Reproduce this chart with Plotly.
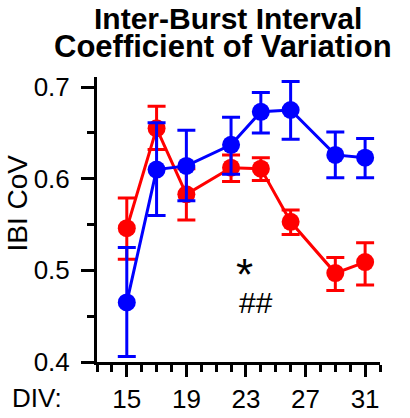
import plotly.graph_objects as go

# ---- data ----
div = [15, 17, 19, 22, 24, 26, 29, 31]

blue_mean = [0.465, 0.610, 0.614, 0.637, 0.673, 0.675, 0.626, 0.623]
blue_hi   = [0.525, 0.661, 0.653, 0.667, 0.694, 0.706, 0.651, 0.644]
blue_lo   = [0.406, 0.560, 0.576, 0.605, 0.650, 0.643, 0.601, 0.601]

red_mean = [0.546, 0.655, 0.583, 0.612, 0.611, 0.553, 0.497, 0.509]
red_hi   = [0.579, 0.679, 0.611, 0.626, 0.623, 0.566, 0.514, 0.530]
red_lo   = [0.512, 0.632, 0.555, 0.597, 0.598, 0.539, 0.478, 0.484]

x_tickvals = [15, 19, 23, 27, 31]
y_tickvals = [0.4, 0.5, 0.6, 0.7]
y_ticktext = ["0.4", "0.5", "0.6", "0.7"]

FONT = "Arial, Liberation Sans, Helvetica, sans-serif"


def series(mean, hi, lo, color):
    return go.Scatter(
        x=div, y=mean, mode="lines+markers",
        line=dict(color=color, width=3),
        marker=dict(color=color, size=18),
        error_y=dict(
            type="data", symmetric=False,
            array=[h - m for h, m in zip(hi, mean)],
            arrayminus=[m - l for m, l in zip(mean, lo)],
            color=color, thickness=3, width=9,
        ),
        showlegend=False,
        cliponaxis=False,
    )


fig = go.Figure()
fig.add_trace(series(red_mean, red_hi, red_lo, "#FF0000"))
fig.add_trace(series(blue_mean, blue_hi, blue_lo, "#0000FF"))

fig.update_layout(
    width=410, height=418,
    margin=dict(l=97, r=30, t=77, b=56),
    paper_bgcolor="white", plot_bgcolor="white",
    font=dict(family=FONT, color="black"),
    xaxis=dict(
        range=[13, 32], showgrid=False, zeroline=False, automargin=False,
        showline=True, linecolor="black", linewidth=3,
        ticks="outside", tickwidth=3, ticklen=12, tickcolor="black",
        tickvals=x_tickvals, tickfont=dict(size=26),
        ticklabelstandoff=0,
        minor=dict(dtick=1, tick0=13, ticks="outside", ticklen=7,
                   tickwidth=3, tickcolor="black", showgrid=False),
    ),
    yaxis=dict(
        range=[0.4, 0.711], showgrid=False, zeroline=False, automargin=False,
        showline=True, linecolor="black", linewidth=3,
        ticks="outside", tickwidth=3, ticklen=13, tickcolor="black",
        tickvals=y_tickvals, ticktext=y_ticktext, tickfont=dict(size=26),
        ticklabelstandoff=6,
        minor=dict(dtick=0.05, tick0=0.4, ticks="outside", ticklen=7,
                   tickwidth=3, tickcolor="black", showgrid=False),
    ),
    annotations=[
        dict(text="<b>Inter-Burst Interval</b>", xref="paper", yref="paper",
             x=(228 - 97) / 283, y=1 + 77 / 285, xanchor="center",
             yanchor="top", showarrow=False, font=dict(size=30)),
        dict(text="<b>Coefficient of Variation</b>", xref="paper", yref="paper",
             x=(223 - 97) / 283, y=1 + (77 - 46) / 285, xanchor="center",
             yanchor="middle", showarrow=False, font=dict(size=31)),
        dict(text="IBI CoV", xref="paper", yref="paper", textangle=-90,
             x=(16.5 - 97) / 283, y=(362 - 203) / 285, xanchor="center",
             yanchor="middle", showarrow=False, font=dict(size=28)),
        dict(text="DIV:", xref="paper", yref="paper",
             x=(37 - 97) / 283, y=(362 - 398) / 285, xanchor="center",
             yanchor="middle", showarrow=False, font=dict(size=26)),
        dict(text="*", xref="x", yref="y", x=22.9, y=0.496,
             xanchor="center", yanchor="middle", showarrow=False,
             font=dict(size=44)),
        dict(text="##", xref="x", yref="y", x=23.66, y=0.465,
             xanchor="center", yanchor="middle", showarrow=False,
             font=dict(size=30)),
    ],
)

fig.write_html("out.html")
